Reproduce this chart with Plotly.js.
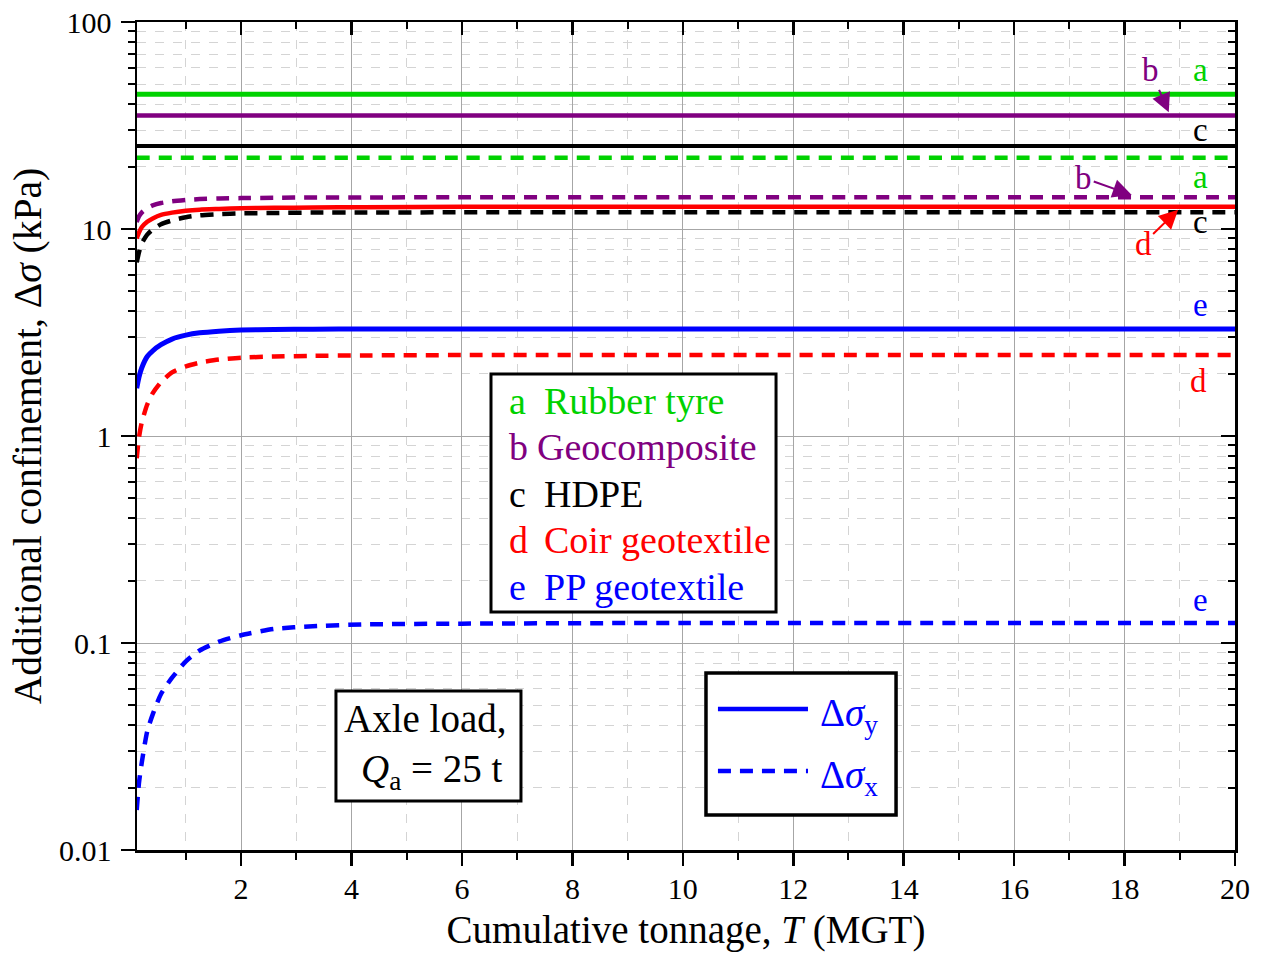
<!DOCTYPE html>
<html>
<head>
<meta charset="utf-8">
<script src="https://cdn.plot.ly/plotly-3.0.1.min.js"></script>
<style>html,body{margin:0;padding:0;background:#fff;}#chart{width:1263px;height:955px;}</style>
</head>
<body>
<div id="chart"></div>
<script>
// Cumulative tonnage T (MGT)
const T = [0.11, 0.15, 0.2, 0.3, 0.4, 0.55, 0.75, 1, 1.25, 1.6, 2, 2.6, 3.3, 4.2, 6, 10, 15, 20];

// Delta sigma_y (solid) and Delta sigma_x (dashed), kPa
const aSolid = [44.8,44.8,44.8,44.8,44.8,44.8,44.8,44.8,44.8,44.8,44.8,44.8,44.8,44.8,44.8,44.8,44.8,44.8];
const bSolid = [35.3,35.3,35.3,35.3,35.3,35.3,35.3,35.3,35.3,35.3,35.3,35.3,35.3,35.3,35.3,35.3,35.3,35.3];
const cSolid = [25.2,25.2,25.2,25.2,25.2,25.2,25.2,25.2,25.2,25.2,25.2,25.2,25.2,25.2,25.2,25.2,25.2,25.2];
const dSolid = [9.0,9.6,10.2,10.85,11.25,11.7,12.0,12.25,12.4,12.5,12.6,12.65,12.7,12.75,12.8,12.8,12.8,12.8];
const eSolid = [1.70,1.92,2.13,2.42,2.58,2.76,2.94,3.07,3.15,3.21,3.25,3.27,3.28,3.29,3.29,3.29,3.29,3.29];

const aDash = [22.1,22.1,22.1,22.1,22.1,22.1,22.1,22.1,22.1,22.1,22.1,22.1,22.1,22.1,22.1,22.1,22.1,22.1];
const bDash = [10.8,11.5,12.0,12.6,13.0,13.35,13.6,13.8,13.95,14.05,14.1,14.15,14.2,14.2,14.25,14.25,14.25,14.25];
const cDash = [6.9,7.7,8.5,9.4,9.95,10.55,11.0,11.4,11.65,11.8,11.9,11.95,12.0,12.0,12.05,12.05,12.05,12.05];
const dDash = [0.78,0.98,1.16,1.42,1.61,1.82,2.03,2.17,2.26,2.34,2.39,2.42,2.44,2.45,2.46,2.46,2.46,2.46];
const eDash = [0.0156,0.021,0.0263,0.0375,0.0452,0.0567,0.068,0.0815,0.092,0.1015,0.109,0.117,0.1205,0.123,0.124,0.125,0.125,0.125];

const materials = ["Rubber tyre", "Geocomposite", "HDPE", "Coir geotextile", "PP geotextile"];
const letters = ["a", "b", "c", "d", "e"];
const colors = ["#00d200", "#800080", "#000000", "#ff0000", "#0000ff"];

const xTicks = [2,4,6,8,10,12,14,16,18,20];
const xMinor = [1,3,5,7,9,11,13,15,17,19];
const yTicks = [0.01, 0.1, 1, 10, 100];
const yTickText = ["0.01", "0.1", "1", "10", "100"];
const yMinor = [];
[0.01,0.1,1,10].forEach(d => { for (let k = 2; k <= 9; k++) yMinor.push(+(d*k).toPrecision(3)); });

// Curve labels (T, value, letter index, arrow offsets in px)
const curveLabels = [
  {t:19.37, v:58.6, i:0},
  {t:18.80, v:36.6, i:1, ax:-18, ay:-42},
  {t:19.37, v:30.1, i:2},
  {t:19.37, v:17.8, i:0},
  {t:18.13, v:14.6, i:1, ax:-48, ay:-17},
  {t:19.37, v:10.8, i:2},
  {t:18.97, v:12.4, i:3, ax:-35, ay:34},
  {t:19.37, v:4.30, i:4},
  {t:19.33, v:1.85, i:3},
  {t:19.37, v:0.161, i:4}
];

const FONT = "Liberation Serif, Times New Roman, serif";
const solids = [aSolid, bSolid, cSolid, dSolid, eSolid];
const dashes = [aDash, bDash, cDash, dDash, eDash];
const widths = [5, 4.5, 4, 4.5, 5];

const traces = [];
dashes.forEach((arr, k) => traces.push({
  x: T, y: arr, type: "scatter", mode: "lines", line: {color: colors[k], width: 4.5, dash: "13px,9px", shape: "spline", smoothing: 0.6},
  hoverinfo: "skip", showlegend: false
}));
solids.forEach((arr, k) => traces.push({
  x: T, y: arr, type: "scatter", mode: "lines", line: {color: colors[k], width: widths[k], shape: "spline", smoothing: 0.6},
  hoverinfo: "skip", showlegend: false,
  xaxis: k === 0 ? "x2" : "x", yaxis: k === 0 ? "y2" : "y"
}));

const xr = [0.115, 20];
const yr = [-2, 2];
const axisCommon = {showline: true, linecolor: "#000", linewidth: 2.5, zeroline: false};

const annotations = [];
curveLabels.forEach(l => {
  const a = {x: l.t, y: Math.log10(l.v), xref: "x", yref: "y", xanchor: "center", yanchor: "middle", text: letters[l.i],
    font: {family: FONT, size: 33, color: colors[l.i]}, showarrow: false};
  if (l.ax !== undefined) {
    Object.assign(a, {showarrow: true, ax: l.ax, ay: l.ay, arrowcolor: colors[l.i], arrowwidth: 2, arrowhead: 2, arrowsize: 1.9, standoff: 0, startstandoff: 0});
  }
  annotations.push(a);
});
// material legend box rows
const rowY = [0.5423, 0.4867, 0.430, 0.3744, 0.3176];
materials.forEach((m, k) => {
  annotations.push({x: 0.337, y: rowY[k], xref: "paper", yref: "paper", xanchor: "left", yanchor: "middle", text: letters[k], showarrow: false, font: {family: FONT, size: 38, color: colors[k]}});
  annotations.push({x: k === 1 ? 0.3625 : 0.3689, y: rowY[k], xref: "paper", yref: "paper", xanchor: "left", yanchor: "middle", text: m, showarrow: false, font: {family: FONT, size: 38, color: colors[k]}});
});
// axle load box
annotations.push({x: 0.2623, y: 0.1585, xref: "paper", yref: "paper", xanchor: "center", yanchor: "middle", text: "Axle load,", showarrow: false, font: {family: FONT, size: 39, color: "#000"}});
annotations.push({x: 0.2687, y: 0.0945, xref: "paper", yref: "paper", xanchor: "center", yanchor: "middle", text: "<i>Q</i><sub>a</sub> = 25 t", showarrow: false, font: {family: FONT, size: 39, color: "#000"}});
// line style legend
annotations.push({x: 0.6202, y: 0.163, xref: "paper", yref: "paper", xanchor: "left", yanchor: "middle", text: "Δ<i>σ</i><sub>y</sub>", showarrow: false, font: {family: FONT, size: 39, color: "#0000ff"}});
annotations.push({x: 0.6202, y: 0.088, xref: "paper", yref: "paper", xanchor: "left", yanchor: "middle", text: "Δ<i>σ</i><sub>x</sub>", showarrow: false, font: {family: FONT, size: 39, color: "#0000ff"}});

const shapes = [
  {type: "rect", xref: "paper", yref: "paper", x0: 0.3224, x1: 0.582, y0: 0.2874, y1: 0.5749, line: {color: "#000", width: 3}, fillcolor: "#fff", layer: "above"},
  {type: "rect", xref: "paper", yref: "paper", x0: 0.1812, x1: 0.3497, y0: 0.0592, y1: 0.192, line: {color: "#000", width: 3}, fillcolor: "#fff", layer: "above"},
  {type: "rect", xref: "paper", yref: "paper", x0: 0.5182, x1: 0.6913, y0: 0.0423, y1: 0.2138, line: {color: "#000", width: 3.5}, fillcolor: "#fff", layer: "above"},
  {type: "line", xref: "paper", yref: "paper", x0: 0.5291, x1: 0.6111, y0: 0.1703, y1: 0.1703, line: {color: "#0000ff", width: 4.5}, layer: "above"},
  {type: "line", xref: "paper", yref: "paper", x0: 0.5291, x1: 0.6111, y0: 0.0954, y1: 0.0954, line: {color: "#0000ff", width: 4.5, dash: "13px,9px"}, layer: "above"}
];

const layout = {
  width: 1263, height: 955,
  margin: {l: 137, r: 28, t: 22, b: 105},
  paper_bgcolor: "#fff", plot_bgcolor: "#fff",
  font: {family: FONT, color: "#000"},
  showlegend: false,
  xaxis: Object.assign({}, axisCommon, {
    range: xr, type: "linear",
    tickmode: "array", tickvals: xTicks, ticks: "outside", ticklen: 13, tickwidth: 2.5, tickcolor: "#000",
    tickfont: {family: FONT, size: 30}, ticklabelstandoff: -3,
    showgrid: true, gridcolor: "#a6a6a6", gridwidth: 1,
    minor: {tickmode: "array", tickvals: xMinor, ticks: "outside", ticklen: 7, tickwidth: 2, tickcolor: "#000", showgrid: true, gridcolor: "#d4d4d4", griddash: "dash", gridwidth: 1},
    title: {text: "Cumulative tonnage, <i>T</i> (MGT)", font: {family: FONT, size: 39}, standoff: 12}
  }),
  yaxis: Object.assign({}, axisCommon, {
    range: yr, type: "log",
    tickmode: "array", tickvals: yTicks, ticktext: yTickText, ticks: "outside", ticklen: 14, tickwidth: 2.5, tickcolor: "#000",
    tickfont: {family: FONT, size: 30}, ticklabelstandoff: 3,
    showgrid: true, gridcolor: "#a6a6a6", gridwidth: 1,
    minor: {tickmode: "array", tickvals: yMinor, ticks: "outside", ticklen: 7, tickwidth: 2, tickcolor: "#000", showgrid: true, gridcolor: "#d4d4d4", griddash: "dash", gridwidth: 1},
    title: {text: "Additional confinement, Δ<i>σ</i> (kPa)", font: {family: FONT, size: 39.5}, standoff: 5}
  }),
  xaxis2: Object.assign({}, axisCommon, {
    range: xr, type: "linear", overlaying: "x", side: "top", anchor: "y2",
    tickmode: "array", tickvals: xTicks, ticks: "inside", ticklen: 13, tickwidth: 2.5, tickcolor: "#000", showticklabels: false, showgrid: false,
    minor: {tickmode: "array", tickvals: xMinor, ticks: "inside", ticklen: 7, tickwidth: 2, tickcolor: "#000", showgrid: false}
  }),
  yaxis2: Object.assign({}, axisCommon, {
    range: yr, type: "log", overlaying: "y", side: "right", anchor: "x2",
    tickmode: "array", tickvals: yTicks, ticks: "inside", ticklen: 14, tickwidth: 2.5, tickcolor: "#000", showticklabels: false, showgrid: false,
    minor: {tickmode: "array", tickvals: yMinor, ticks: "inside", ticklen: 7, tickwidth: 2, tickcolor: "#000", showgrid: false}
  }),
  annotations: annotations,
  shapes: shapes
};

Plotly.newPlot("chart", traces, layout, {staticPlot: true, displayModeBar: false});
</script>
</body>
</html>
